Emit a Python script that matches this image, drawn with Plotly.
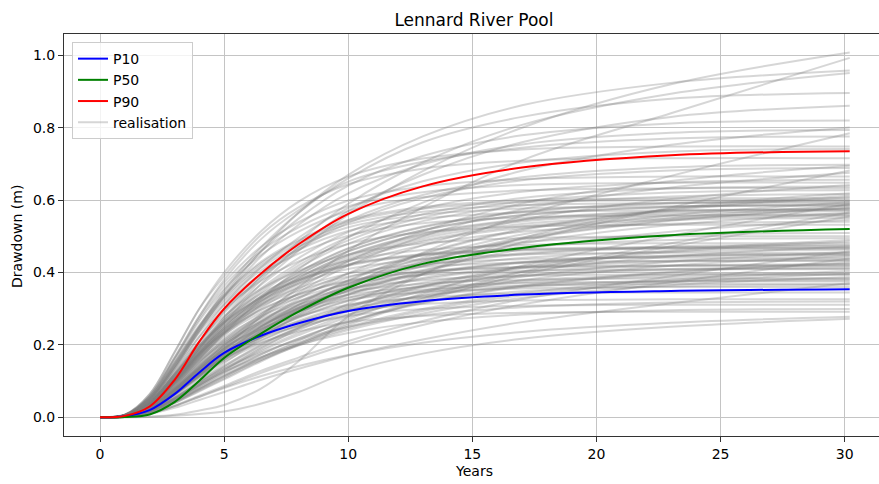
import plotly.graph_objects as go

# Simulated drawdown at Lennard River Pool: stochastic realisations plus
# the P10 / P50 / P90 realisations, sampled at these times (years).
years = [0, 1, 2, 3, 4, 5, 6.5, 8, 10, 13, 17, 23, 30.2]

p10 = [0, .003, .02, .064, .124, .178, .226, .26, .294, .321, .339, .349, .354]
p50 = [0, .001, .008, .042, .101, .164, .232, .292, .358, .424, .468, .503, .520]
p90 = [0, .004, .03, .103, .209, .30, .398, .478, .562, .638, .69, .724, .735]

# Realisations, grouped by the drawdown they reach at the end of the run.
group_top = [
    [0, .004, .035, .10, .18, .26, .37, .46, .56, .68, .80, .92, 1.008],
    [0, .003, .025, .07, .13, .19, .28, .36, .46, .58, .71, .84, .993],
    [0, .006, .048, .134, .24, .335, .46, .565, .67, .776, .862, .924, .958],
    [0, .005, .038, .105, .19, .276, .39, .485, .59, .704, .808, .894, .951],
    [0, .006, .05, .14, .25, .35, .47, .565, .66, .76, .83, .88, .896],
    [0, .005, .04, .11, .19, .27, .38, .47, .57, .67, .76, .83, .861],
]
group_high = [
    [0, .007, .049, .139, .246, .344, .459, .549, .64, .722, .779, .812, .820],
    [0, .004, .032, .088, .16, .232, .328, .409, .497, .593, .681, .753, .801],
    [0, .006, .048, .135, .238, .333, .445, .532, .619, .699, .754, .786, .794],
    [0, .002, .02, .055, .102, .149, .22, .283, .361, .455, .557, .667, .785],
    [0, .007, .058, .163, .279, .380, .493, .572, .651, .706, .745, .770, .776],
    [0, .007, .064, .18, .30, .40, .515, .596, .665, .715, .740, .748, .748],
    [0, .006, .044, .126, .222, .311, .415, .496, .578, .652, .704, .734, .741],
]
group_upper_mid = [
    [0, .007, .064, .179, .30, .39, .505, .58, .644, .687, .709, .716, .716],
    [0, .0056, .042, .119, .209, .293, .391, .468, .544, .614, .663, .691, .698],
    [0, .003, .028, .076, .139, .202, .285, .354, .431, .514, .591, .653, .695],
    [0, .0055, .041, .117, .207, .289, .386, .462, .537, .606, .655, .682, .689],
    [0, .002, .017, .048, .089, .13, .191, .246, .314, .396, .484, .58, .682],
    [0, .0034, .027, .074, .135, .196, .277, .345, .419, .50, .575, .635, .676],
    [0, .0067, .06, .166, .279, .372, .472, .539, .599, .638, .658, .665, .665],
    [0, .005, .039, .112, .197, .276, .367, .44, .512, .577, .623, .649, .656],
    [0, .0065, .058, .162, .272, .363, .46, .525, .583, .622, .642, .648, .648],
    [0, .003, .026, .071, .128, .186, .263, .327, .398, .475, .546, .603, .642],
    [0, .0051, .038, .108, .191, .268, .357, .427, .498, .561, .606, .632, .638],
    [0, .006, .057, .158, .266, .354, .449, .513, .57, .608, .627, .633, .633],
    [0, .005, .038, .107, .188, .263, .351, .42, .489, .552, .596, .621, .627],
    [0, 0, .002, .007, .019, .034, .08, .155, .279, .396, .495, .576, .619],
    [0, .0049, .037, .105, .185, .259, .345, .413, .48, .542, .585, .61, .616],
    [0, .003, .024, .067, .122, .177, .251, .312, .379, .453, .52, .575, .612],
    [0, .003, .024, .067, .122, .176, .249, .31, .377, .45, .517, .572, .608],
    [0, .006, .054, .151, .254, .339, .43, .49, .545, .581, .599, .605, .605],
]
group_mid = [
    [0, .006, .054, .15, .252, .336, .426, .486, .54, .576, .594, .60, .60],
    [0, .0048, .036, .102, .18, .252, .335, .401, .467, .527, .569, .593, .599],
    [0, .005, .036, .101, .179, .251, .334, .40, .466, .525, .567, .591, .597],
    [0, .003, .024, .065, .119, .172, .244, .303, .368, .44, .505, .558, .594],
    [0, .0059, .053, .148, .249, .332, .42, .48, .533, .568, .586, .592, .592],
    [0, .002, .015, .041, .077, .112, .165, .212, .271, .342, .419, .502, .590],
    [0, .005, .035, .10, .176, .247, .329, .394, .459, .517, .559, .582, .588],
    [0, .005, .035, .10, .176, .247, .329, .393, .458, .517, .558, .581, .587],
    [0, .0029, .023, .064, .117, .17, .24, .298, .363, .433, .497, .55, .585],
    [0, .006, .052, .146, .245, .326, .414, .472, .525, .56, .577, .583, .583],
    [0, .003, .023, .064, .116, .168, .238, .296, .36, .429, .493, .545, .580],
    [0, .003, .023, .064, .116, .168, .237, .295, .358, .428, .491, .543, .578],
    [0, .005, .035, .098, .173, .242, .323, .386, .449, .507, .547, .57, .576],
    [0, .0046, .034, .098, .172, .241, .321, .385, .448, .505, .545, .568, .574],
    [0, .006, .051, .143, .24, .32, .406, .463, .515, .549, .566, .572, .572],
    [0, .0045, .034, .097, .171, .239, .319, .381, .444, .501, .541, .563, .569],
    [0, .0017, .014, .04, .074, .108, .158, .204, .26, .328, .402, .481, .566],
    [0, .003, .023, .062, .113, .164, .232, .288, .35, .418, .48, .531, .565],
    [0, .0045, .034, .096, .169, .236, .315, .377, .438, .495, .534, .556, .562],
    [0, .0056, .05, .14, .234, .312, .396, .452, .502, .536, .552, .558, .558],
    [0, .0044, .033, .095, .167, .234, .311, .373, .434, .489, .528, .55, .556],
    [0, .0017, .014, .039, .072, .105, .155, .20, .255, .322, .394, .472, .555],
    [0, .0044, .033, .094, .165, .231, .309, .369, .43, .485, .523, .545, .551],
    [0, .003, .022, .06, .109, .158, .224, .278, .339, .404, .464, .513, .546],
    [0, .0043, .032, .092, .162, .227, .302, .362, .421, .475, .513, .535, .540],
    [0, .0053, .048, .133, .223, .298, .378, .431, .479, .511, .527, .532, .532],
    [0, .004, .031, .087, .153, .214, .285, .341, .397, .448, .484, .504, .509],
    [0, .005, .045, .125, .21, .28, .355, .405, .45, .48, .495, .50, .50],
    [0, .004, .03, .084, .149, .208, .277, .332, .386, .436, .47, .49, .495],
    [0, .0025, .02, .054, .098, .142, .201, .25, .304, .363, .417, .461, .490],
]
group_lower_mid = [
    [0, .0024, .019, .053, .097, .141, .199, .248, .301, .36, .413, .457, .486],
    [0, .005, .043, .12, .202, .269, .342, .39, .433, .462, .476, .481, .481],
    [0, .004, .029, .081, .143, .20, .267, .32, .372, .42, .453, .472, .477],
    [0, .0038, .028, .081, .142, .199, .265, .318, .37, .417, .45, .469, .474],
    [0, .0024, .019, .052, .094, .137, .194, .241, .293, .349, .401, .444, .472],
    [0, .0047, .042, .118, .197, .263, .334, .381, .423, .451, .465, .470, .470],
    [0, .0047, .042, .117, .197, .262, .332, .379, .421, .449, .463, .468, .468],
    [0, .0047, .042, .117, .196, .261, .331, .377, .419, .447, .461, .466, .466],
    [0, .0037, .028, .079, .139, .194, .259, .31, .361, .407, .44, .458, .463],
    [0, .0014, .011, .032, .06, .087, .129, .165, .211, .266, .326, .39, .459],
    [0, .0023, .018, .05, .091, .133, .187, .233, .283, .338, .388, .43, .457],
    [0, .0046, .041, .114, .191, .255, .323, .369, .41, .437, .45, .455, .455],
    [0, .0036, .027, .077, .136, .19, .253, .303, .353, .398, .429, .447, .452],
    [0, .0036, .027, .077, .135, .189, .252, .302, .351, .396, .428, .446, .450],
    [0, .0036, .027, .076, .134, .188, .251, .30, .349, .394, .426, .444, .448],
    [0, .0022, .018, .049, .089, .129, .183, .227, .277, .33, .379, .419, .446],
    [0, .0044, .04, .11, .185, .247, .313, .357, .397, .423, .437, .441, .441],
    [0, .0013, .011, .031, .057, .083, .123, .158, .202, .255, .312, .373, .439],
    [0, .0035, .026, .074, .131, .184, .245, .293, .341, .385, .415, .433, .437],
    [0, .0035, .026, .074, .13, .182, .243, .291, .339, .382, .412, .43, .434],
    [0, .0043, .039, .108, .181, .242, .307, .35, .389, .415, .428, .432, .432],
    [0, .0021, .017, .047, .086, .124, .175, .218, .265, .317, .364, .402, .428],
    [0, .0021, .017, .047, .085, .123, .174, .217, .264, .315, .361, .40, .425],
    [0, .0034, .025, .072, .127, .178, .237, .283, .33, .372, .402, .419, .423],
    [0, .0042, .038, .105, .176, .235, .298, .34, .378, .403, .416, .42, .42],
    [0, .0042, .038, .105, .176, .234, .297, .339, .376, .401, .414, .418, .418],
    [0, .0033, .025, .07, .124, .174, .232, .277, .323, .364, .393, .41, .414],
    [0, .0033, .025, .07, .123, .173, .23, .275, .321, .362, .39, .407, .411],
    [0, .0041, .037, .102, .172, .229, .29, .331, .368, .393, .405, .409, .409],
    [0, .002, .016, .044, .081, .117, .166, .206, .25, .299, .343, .38, .404],
    [0, .0032, .024, .068, .119, .167, .223, .267, .31, .35, .378, .394, .398],
]
group_low = [
    [0, .002, .016, .044, .079, .115, .163, .202, .246, .294, .337, .373, .397],
    [0, .004, .036, .099, .166, .221, .28, .32, .356, .379, .391, .395, .395],
    [0, .0031, .024, .067, .118, .165, .22, .263, .307, .346, .373, .389, .393],
    [0, .0019, .016, .043, .078, .113, .159, .198, .241, .287, .33, .365, .388],
    [0, .0038, .035, .096, .161, .215, .273, .311, .346, .369, .38, .384, .384],
    [0, .0031, .023, .065, .115, .16, .214, .256, .298, .336, .363, .378, .382],
    [0, .003, .023, .064, .114, .159, .212, .254, .296, .334, .36, .375, .379],
    [0, .0037, .034, .094, .158, .21, .266, .304, .338, .36, .371, .375, .375],
    [0, .0011, .009, .026, .048, .07, .104, .134, .171, .215, .263, .315, .371],
    [0, .0037, .033, .092, .155, .206, .261, .298, .331, .353, .364, .368, .368],
    [0, .0029, .022, .062, .11, .154, .205, .245, .285, .322, .348, .362, .366],
    [0, .0036, .032, .09, .151, .202, .256, .292, .324, .346, .356, .36, .36],
]
group_bottom = [
    [0, .0035, .031, .086, .145, .193, .245, .279, .311, .331, .342, .345, .345],
    [0, .0033, .029, .082, .137, .183, .231, .264, .293, .313, .323, .326, .326],
    [0, .0026, .019, .054, .096, .134, .179, .214, .25, .282, .304, .317, .32],
    [0, .0031, .028, .078, .131, .174, .221, .252, .28, .299, .308, .311, .311],
    [0, .0024, .018, .051, .09, .126, .167, .20, .233, .263, .284, .296, .299],
    [0, .0029, .026, .073, .123, .164, .207, .237, .263, .28, .289, .292, .292],
    [0, .0014, .011, .031, .056, .081, .114, .142, .172, .206, .236, .261, .278],
    [0, 0, .001, .004, .009, .016, .038, .07, .125, .176, .217, .25, .272],
]

realisation_groups = [group_top, group_high, group_upper_mid, group_mid,
                      group_lower_mid, group_low, group_bottom]

FONT = "DejaVu Sans"
fig = go.Figure()

first = True
for group in realisation_groups:
    for values in group:
        fig.add_trace(go.Scatter(
            x=years, y=values, mode="lines",
            line=dict(color="rgba(128,128,128,0.32)", width=2, shape="spline"),
            name="realisation", legendgroup="realisation",
            showlegend=first, legendrank=4, hoverinfo="skip",
        ))
        first = False

for name, values, colour, rank in [("P10", p10, "#0000ff", 1),
                                   ("P50", p50, "#008000", 2),
                                   ("P90", p90, "#ff0000", 3)]:
    fig.add_trace(go.Scatter(
        x=years, y=values, mode="lines", name=name, legendrank=rank,
        line=dict(color=colour, width=2, shape="spline"),
    ))

axis_common = dict(
    showgrid=True, gridcolor="#c4c4c4", gridwidth=1,
    zeroline=False, showline=True, linecolor="#333333", linewidth=1.1,
    ticks="outside", ticklen=5, tickwidth=1.1, tickcolor="#333333",
    tickfont=dict(family=FONT, size=14, color="#000000"),
)

fig.update_layout(
    width=879, height=484,
    margin=dict(l=64, r=0, t=34, b=48),
    paper_bgcolor="white", plot_bgcolor="white",
    font=dict(family=FONT, size=14, color="#000000"),
    title=dict(text="Lennard River Pool", x=0.503, xref="paper", xanchor="center",
               y=1 - 20 / 484, yref="container", yanchor="middle",
               font=dict(family=FONT, size=17, color="#000000")),
    xaxis=dict(range=[-1.45, 31.38], tickvals=[0, 5, 10, 15, 20, 25, 30],
               mirror=True, **axis_common),
    yaxis=dict(range=[-0.0516, 1.059], tickvals=[0, 0.2, 0.4, 0.6, 0.8, 1.0],
               ticktext=["0.0", "0.2", "0.4", "0.6", "0.8", "1.0"],
               mirror=False, **axis_common),
    legend=dict(x=0.0098, y=0.98, xanchor="left", yanchor="top",
                tracegroupgap=0,
                bgcolor="rgba(255,255,255,0.8)", bordercolor="#cccccc", borderwidth=1,
                font=dict(family=FONT, size=14, color="#000000")),
    showlegend=True,
    annotations=[
        dict(text="Years", x=0.503, y=-0.087, xref="paper", yref="paper",
             xanchor="center", yanchor="middle", showarrow=False,
             font=dict(family=FONT, size=14, color="#000000")),
        dict(text="Drawdown (m)", x=-0.0577, y=0.4975, xref="paper", yref="paper",
             xanchor="center", yanchor="middle", showarrow=False, textangle=-90,
             font=dict(family=FONT, size=14, color="#000000")),
    ],
)

fig.write_html("out.html")
